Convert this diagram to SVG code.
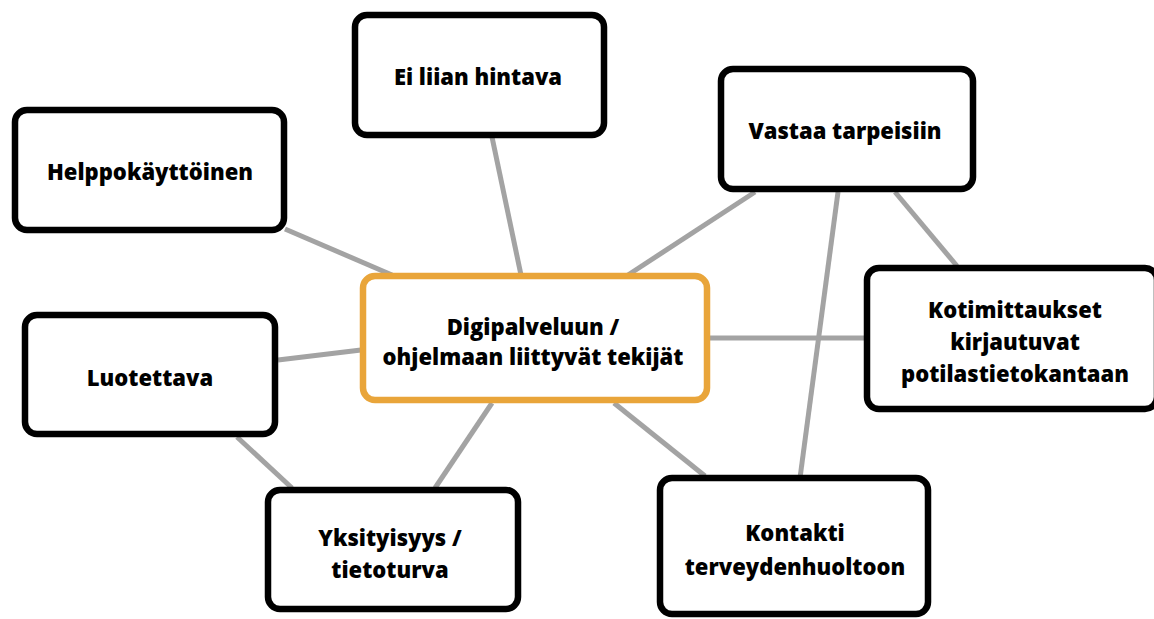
<svg xmlns="http://www.w3.org/2000/svg" width="1154" height="619" viewBox="0 0 1154 619">
  <style>
    .node rect { fill: #ffffff; stroke: #000000; stroke-width: 6.5; }
    .hub rect { fill: #ffffff; stroke: #e9a53a; stroke-width: 6.5; }
    text { font-family: "Open Sans", "DejaVu Sans", sans-serif; font-weight: 800; font-size: 22px; fill: #000000; text-anchor: middle; }
    .links line { stroke: #a3a3a3; stroke-width: 5; stroke-linecap: butt; }
  </style>
  <rect width="1154" height="619" fill="#ffffff"/>

  <!-- connectors drawn first so the boxes sit on top -->
  <g class="links" id="connectors">
    <line x1="285" y1="229" x2="392" y2="275"/>
    <line x1="492" y1="137" x2="521" y2="275"/>
    <line x1="755" y1="192" x2="628" y2="275"/>
    <line x1="895" y1="192" x2="957" y2="266"/>
    <line x1="838" y1="192" x2="800" y2="478"/>
    <line x1="710" y1="338" x2="865" y2="338"/>
    <line x1="278" y1="360" x2="361" y2="350"/>
    <line x1="237" y1="437" x2="292" y2="488"/>
    <line x1="492" y1="403" x2="435" y2="488"/>
    <line x1="614" y1="403" x2="705" y2="476"/>
  </g>

  <g id="node-helppokayttoinen" class="node">
    <rect x="15" y="110" width="269" height="120" rx="12"/>
    <text x="150" y="180">Helppokäyttöinen</text>
  </g>

  <g id="node-ei-liian-hintava" class="node">
    <rect x="355" y="15" width="249" height="120" rx="12"/>
    <text x="478" y="85">Ei liian hintava</text>
  </g>

  <g id="node-vastaa-tarpeisiin" class="node">
    <rect x="721" y="69" width="252" height="120" rx="12"/>
    <text x="845" y="139">Vastaa tarpeisiin</text>
  </g>

  <g id="node-kotimittaukset" class="node">
    <rect x="867" y="268" width="290" height="141" rx="12"/>
    <text x="1015" y="318">Kotimittaukset</text>
    <text x="1015" y="350">kirjautuvat</text>
    <text x="1015" y="382">potilastietokantaan</text>
  </g>

  <g id="node-luotettava" class="node">
    <rect x="25" y="315" width="250" height="119" rx="12"/>
    <text x="150" y="386">Luotettava</text>
  </g>

  <g id="node-digipalvelu" class="hub">
    <rect x="363" y="276" width="344" height="124" rx="12"/>
    <text x="533" y="335">Digipalveluun /</text>
    <text x="533" y="365">ohjelmaan liittyvät tekijät</text>
  </g>

  <g id="node-yksityisyys" class="node">
    <rect x="268" y="490" width="250" height="119" rx="12"/>
    <text x="390" y="546">Yksityisyys /</text>
    <text x="390" y="578">tietoturva</text>
  </g>

  <g id="node-kontakti" class="node">
    <rect x="660" y="478" width="268" height="136" rx="12"/>
    <text x="795" y="541">Kontakti</text>
    <text x="795" y="575">terveydenhuoltoon</text>
  </g>
</svg>
